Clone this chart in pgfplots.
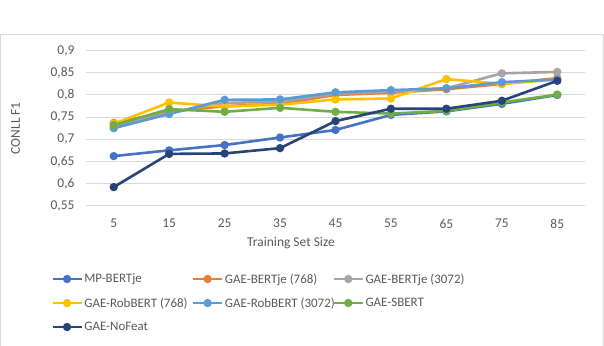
\documentclass[border=0pt]{standalone}
\usepackage{fontspec}
\setmainfont{Carlito}
\usepackage{pgfplots}
\pgfplotsset{compat=1.18}

\definecolor{cblue}{HTML}{4472C4}
\definecolor{corange}{HTML}{ED7D31}
\definecolor{cgray}{HTML}{A5A5A5}
\definecolor{cyellow}{HTML}{FFC000}
\definecolor{clblue}{HTML}{5B9BD5}
\definecolor{cgreen}{HTML}{70AD47}
\definecolor{cnavy}{HTML}{264478}
\definecolor{gridgray}{HTML}{D9D9D9}
\definecolor{txtgray}{HTML}{595959}

\pgfplotsset{
  ser/.style={color=#1, line width=2.6bp, mark=*, mark size=2.8bp,
    mark options={solid, fill=#1, draw=#1}},
}
% fixed-width legend cells so the three columns line up
\newcommand{\legcell}[1]{\makebox[106bp][l]{#1}}

\begin{document}
\begin{tikzpicture}[font=\fontsize{13.5}{16}\selectfont]
\begin{axis}[
  scale only axis, width=499bp, height=155bp,
  xmin=0, xmax=90, ymin=0.55, ymax=0.9,
  xtick={5,15,25,35,45,55,65,75,85},
  ytick={0.55,0.6,0.65,0.7,0.75,0.8,0.85,0.9},
  ymajorgrids, grid style={color=gridgray, line width=1bp},
  axis line style={draw=none}, major tick length=0pt,
  /pgf/number format/assume math mode=true,
  tick label style={text=txtgray, font=\fontsize{13.5}{16}\selectfont},
  x tick label style={yshift=-10bp},
  y tick label style={xshift=-8bp, /pgf/number format/.cd, fixed, precision=2, use comma},
  legend columns=3,
  legend cell align=left,
  legend style={at={(-0.070,-0.628)}, anchor=west, draw=none, fill=none,
    inner sep=0pt, font=\fontsize{13}{16}\selectfont, text=txtgray,
    nodes={inner xsep=1.5bp, inner ysep=0pt, minimum height=24bp}},
  legend image code/.code={\draw[#1, mark repeat=2, mark phase=2] plot coordinates {(0bp,0bp) (14.5bp,0bp) (29bp,0bp)};},
]
\addplot[ser=cblue] coordinates {(5,0.662) (15,0.675) (25,0.687) (35,0.704) (45,0.721) (55,0.755) (65,0.763) (75,0.780) (85,0.800)};
\addlegendentry{\legcell{MP-BERTje}}
\addplot[ser=corange] coordinates {(5,0.737) (15,0.762) (25,0.775) (35,0.780) (45,0.800) (55,0.805) (65,0.813) (75,0.825) (85,0.838)};
\addlegendentry{\legcell{GAE-BERTje (768)}}
\addplot[ser=cgray] coordinates {(5,0.730) (15,0.760) (25,0.782) (35,0.785) (45,0.803) (55,0.808) (65,0.815) (75,0.849) (85,0.852)};
\addlegendentry{\legcell{GAE-BERTje (3072)}}
\addplot[ser=cyellow] coordinates {(5,0.735) (15,0.783) (25,0.774) (35,0.778) (45,0.790) (55,0.792) (65,0.836) (75,0.825) (85,0.835)};
\addlegendentry{\legcell{GAE-RobBERT (768)}}
\addplot[ser=clblue] coordinates {(5,0.725) (15,0.757) (25,0.789) (35,0.790) (45,0.806) (55,0.811) (65,0.815) (75,0.829) (85,0.835)};
\addlegendentry{\legcell{GAE-RobBERT (3072)}}
\addplot[ser=cgreen] coordinates {(5,0.732) (15,0.768) (25,0.762) (35,0.771) (45,0.762) (55,0.758) (65,0.764) (75,0.783) (85,0.801)};
\addlegendentry{\legcell{GAE-SBERT}}
\addplot[ser=cnavy] coordinates {(5,0.592) (15,0.667) (25,0.668) (35,0.680) (45,0.741) (55,0.769) (65,0.769) (75,0.787) (85,0.832)};
\addlegendentry{\legcell{GAE-NoFeat}}
\end{axis}
\node[text=txtgray] at (205bp,-37.5bp) {Training Set Size};
\node[text=txtgray, rotate=90] at (-70.5bp,77.5bp) {CONLL F1};
\draw[color=gridgray, line width=1bp] (-85bp,-145bp) -- (-85bp,170.7bp) -- (517bp,170.7bp) -- (517bp,-145bp);
\pgfresetboundingbox
\useasboundingbox (-86bp,-140.3bp) rectangle (518bp,205.7bp);
\end{tikzpicture}
\end{document}
